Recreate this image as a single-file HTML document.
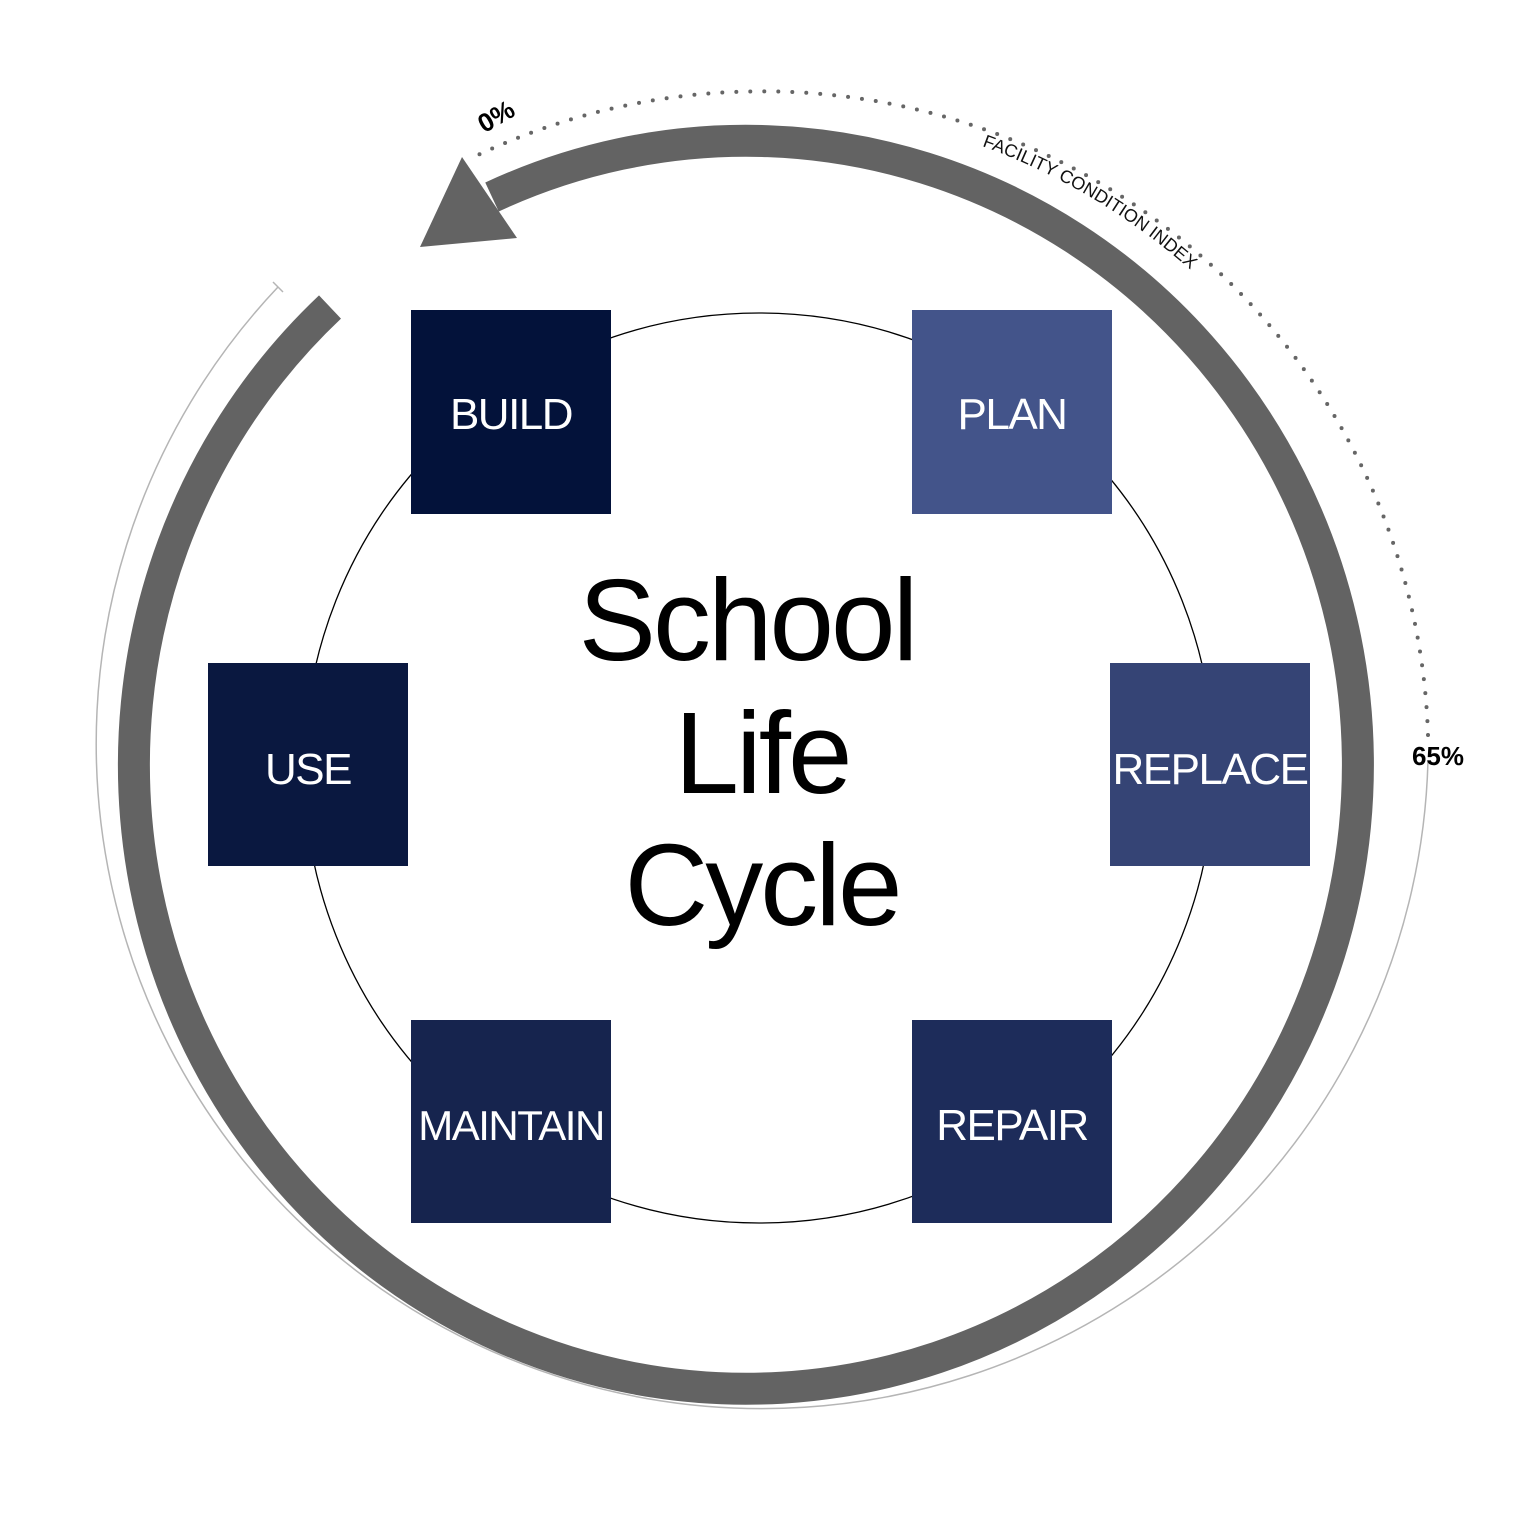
<!DOCTYPE html>
<html><head><meta charset="utf-8"><style>
html,body{margin:0;padding:0;background:#fff;}
svg{display:block;}
.lb{font-family:"Liberation Sans",sans-serif;fill:#fff;font-size:44px;text-anchor:middle;letter-spacing:-1.5px;}
.ct{font-family:"Liberation Sans",sans-serif;fill:#000;font-size:116px;text-anchor:middle;letter-spacing:-3px;}
</style></head><body>
<svg width="1518" height="1537" viewBox="0 0 1518 1537" xmlns="http://www.w3.org/2000/svg">
<defs>
<path id="fci" d="M 982 146 A 650 650 0 0 1 1258 339"/>
</defs>
<!-- thin outer circle -->
<path d="M 278 287 A 666 665 0 1 0 1428 760" fill="none" stroke="#b5b5b5" stroke-width="1.5"/>
<line x1="273" y1="282" x2="283" y2="292" stroke="#b5b5b5" stroke-width="1.5"/>
<!-- dotted -->
<path d="M 1428 735 A 666 665 0 0 0 478 155" fill="none" stroke="#666" stroke-width="4" stroke-linecap="round" stroke-dasharray="0 14"/>
<!-- inner circle -->
<circle cx="759" cy="768" r="455" fill="none" stroke="#000" stroke-width="1.3"/>
<!-- gray ring -->
<path d="M 330 307 A 612 624 0 1 0 492 197" fill="none" stroke="#636363" stroke-width="32"/>
<polygon points="420,247 462,157 517,238" fill="#636363"/>
<!-- labels -->
<text x="497" y="125" transform="rotate(-30 497 118)" font-family="Liberation Sans,sans-serif" font-weight="bold" font-size="26" text-anchor="middle">0%</text>
<text x="1438" y="765" font-family="Liberation Sans,sans-serif" font-weight="bold" font-size="26" text-anchor="middle">65%</text>
<text font-family="Liberation Sans,sans-serif" font-size="18" fill="#111"><textPath href="#fci">FACILITY CONDITION INDEX</textPath></text>
<!-- boxes -->
<rect x="411" y="310" width="200" height="204" fill="#03123a"/>
<rect x="912" y="310" width="200" height="204" fill="#43548a"/>
<rect x="208" y="663" width="200" height="203" fill="#0a1840"/>
<rect x="1110" y="663" width="200" height="203" fill="#354475"/>
<rect x="411" y="1020" width="200" height="203" fill="#16244e"/>
<rect x="912" y="1020" width="200" height="203" fill="#1d2c5a"/>
<text class="lb" x="511" y="429">BUILD</text>
<text class="lb" x="1012" y="429">PLAN</text>
<text class="lb" x="308" y="784">USE</text>
<text class="lb" x="1210" y="784">REPLACE</text>
<text class="lb" x="511" y="1140" style="font-size:42px">MAINTAIN</text>
<text class="lb" x="1012" y="1140">REPAIR</text>
<!-- center -->
<text class="ct" x="747" y="660">School</text>
<text class="ct" x="762" y="793">Life</text>
<text class="ct" x="762" y="925">Cycle</text>
</svg>
</body></html>
